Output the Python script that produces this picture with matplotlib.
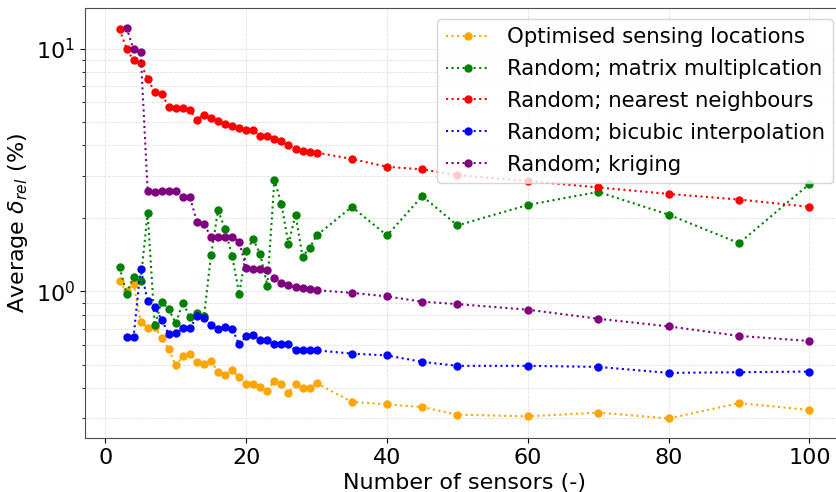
import matplotlib
matplotlib.use("Agg")
import matplotlib.pyplot as plt

# number of sensors
x_dense = list(range(2, 31))
x_sparse = [35, 40, 45, 50, 60, 70, 80, 90, 100]

opt_x = x_dense + x_sparse
opt_y = [1.10, 1.00, 1.076, 0.752, 0.709, 0.715, 0.641, 0.581, 0.496, 0.540,
         0.552, 0.512, 0.505, 0.515, 0.467, 0.453, 0.473, 0.443, 0.414, 0.414,
         0.404, 0.390, 0.429, 0.417, 0.383, 0.417, 0.399, 0.399, 0.419,
         0.351, 0.343, 0.334, 0.311, 0.306, 0.317, 0.300, 0.347, 0.325]

mm_x = x_dense + x_sparse
mm_y = [1.26, 0.98, 1.15, 1.10, 2.11, 0.725, 0.907, 0.843, 0.741, 0.898,
        0.784, 0.817, 0.79, 1.41, 2.16, 1.80, 1.40, 0.975, 1.47, 1.64,
        1.42, 1.055, 2.88, 2.29, 1.57, 2.07, 1.39, 1.51, 1.70,
        2.23, 1.70, 2.47, 1.87, 2.27, 2.57, 2.07, 1.58, 2.77]

nn_x = x_dense + x_sparse
nn_y = [12.0, 10.0, 8.93, 8.73, 7.50, 6.61, 6.51, 5.75, 5.68, 5.68,
        5.57, 5.10, 5.35, 5.17, 5.01, 4.87, 4.78, 4.69, 4.63, 4.60,
        4.36, 4.36, 4.26, 4.15, 3.99, 3.87, 3.77, 3.74, 3.73,
        3.51, 3.26, 3.18, 3.01, 2.85, 2.68, 2.52, 2.39, 2.23]

bc_x = list(range(3, 31)) + x_sparse
bc_y = [0.651, 0.651, 1.24, 0.912, 0.859, 0.765, 0.665, 0.672, 0.705,
        0.705, 0.789, 0.779, 0.729, 0.698, 0.713, 0.702, 0.605, 0.655, 0.659,
        0.630, 0.630, 0.605, 0.607, 0.605, 0.572, 0.572, 0.572, 0.572,
        0.555, 0.545, 0.513, 0.494, 0.494, 0.489, 0.462, 0.465, 0.468]

kr_x = list(range(3, 31)) + x_sparse
kr_y = [12.2, 9.91, 9.72, 2.59, 2.56, 2.60, 2.58, 2.58, 2.44,
        2.44, 1.94, 1.89, 1.68, 1.68, 1.68, 1.68, 1.60, 1.247, 1.24,
        1.24, 1.23, 1.14, 1.086, 1.059, 1.039, 1.032, 1.022, 1.012,
        0.987, 0.954, 0.907, 0.887, 0.841, 0.772, 0.718, 0.656, 0.625]

labels = ["Optimised sensing locations",
          "Random; matrix multiplcation",
          "Random; nearest neighbours",
          "Random; bicubic interpolation",
          "Random; kriging"]
colors = ["orange", "green", "red", "blue", "purple"]

fig = plt.figure(figsize=(8.36, 4.92), dpi=100)
W, H = 836, 492
ax = fig.add_axes([85 / W, 1 - 438 / H, 759 / W, 430 / H])

series = [(opt_x, opt_y), (mm_x, mm_y), (nn_x, nn_y), (bc_x, bc_y), (kr_x, kr_y)]
for (xs, ys), lab, col in zip(series, labels, colors):
    ax.plot(xs, ys, linestyle=":", marker="o", color=col, markersize=5,
            linewidth=1.5, label=lab)

ax.set_yscale("log")
ax.grid(True, which="both", color="#e0e0e0", linestyle="--", linewidth=0.6)
ax.set_axisbelow(True)
for s in ax.spines.values():
    s.set_color("0.3")

ax.tick_params(axis="both", which="major", labelsize=16)
ax.set_xlabel("Number of sensors (-)", fontsize=16)
ax.set_ylabel(r"Average $\delta_{rel}$ (%)", fontsize=16)
ax.set_xticks([0, 20, 40, 60, 80, 100])

ax.legend(loc="upper right", fontsize=15.3, labelspacing=0.56,
          handlelength=2.04, handletextpad=0.83)

fig.savefig("out.png", dpi=100)
